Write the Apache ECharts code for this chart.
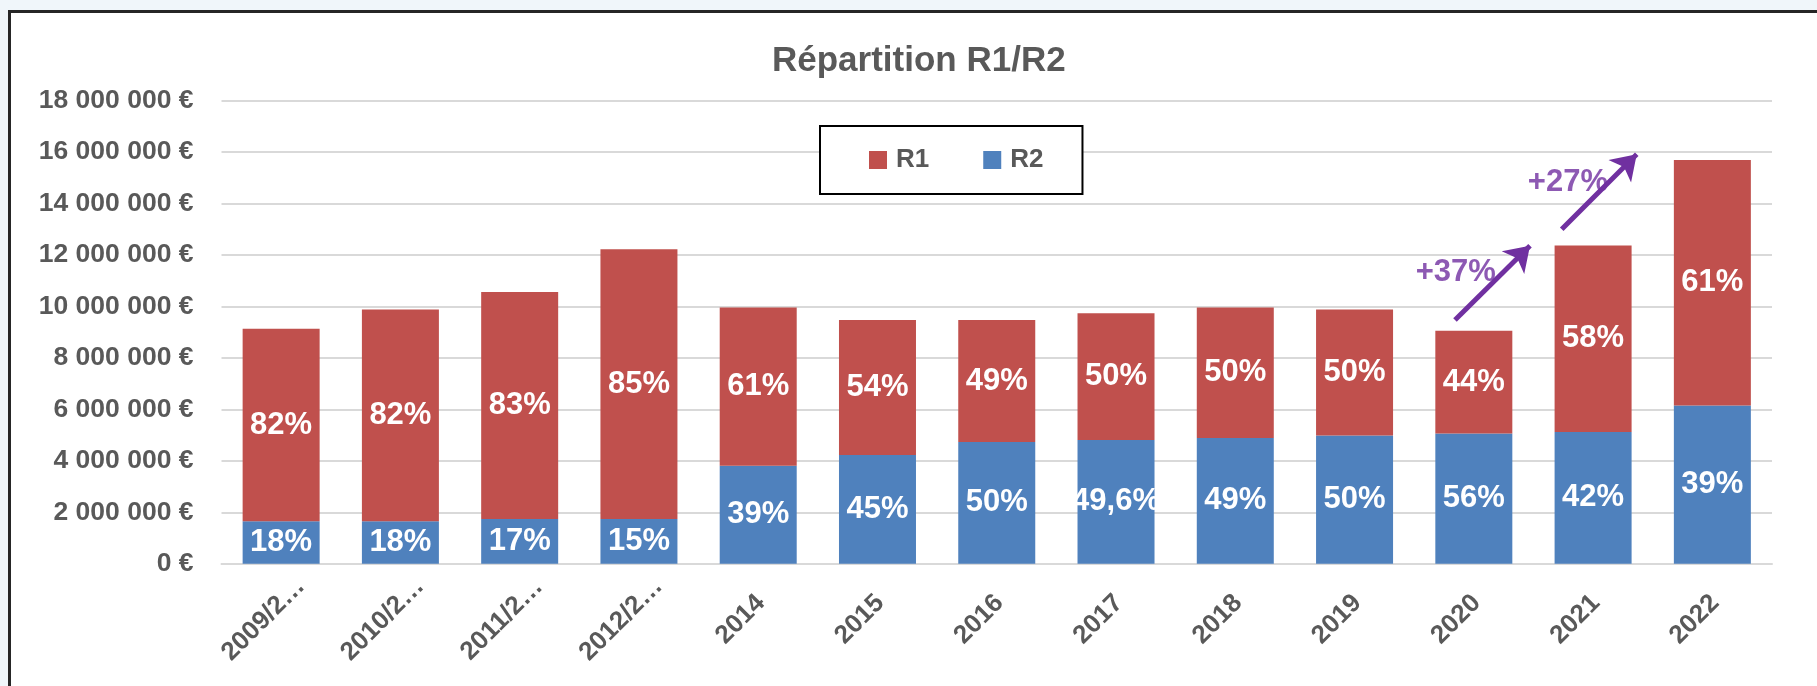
<!DOCTYPE html>
<html>
<head>
<meta charset="utf-8">
<script src="https://cdn.jsdelivr.net/npm/echarts@6/dist/echarts.min.js"></script>
<style>
  html, body { margin: 0; padding: 0; background: #f0f6fa; }
  #frame { position: absolute; left: 8px; top: 10px; width: 1806px; height: 673px;
           background: #ffffff; border-left: 3px solid #262626; border-top: 3px solid #262626; }
  #chart { position: absolute; left: 0; top: 0; width: 1817px; height: 686px; }
</style>
</head>
<body>
<div id="frame"></div>
<div id="chart"></div>
<script>
// ---- data ----
const categories = ['2009/2…', '2010/2…', '2011/2…', '2012/2…', '2014', '2015', '2016', '2017', '2018', '2019', '2020', '2021', '2022'];
const r2Values = [1650000, 1650000, 1740000, 1740000, 3810000, 4230000, 4730000, 4810000, 4890000, 4980000, 5060000, 5120000, 6150000];
const r1Values = [7480000, 8230000, 8820000, 10480000, 6150000, 5240000, 4740000, 4920000, 5070000, 4900000, 3990000, 7250000, 9540000];
const r1Labels = ['82%', '82%', '83%', '85%', '61%', '54%', '49%', '50%', '50%', '50%', '44%', '58%', '61%'];
const r2Labels = ['18%', '18%', '17%', '15%', '39%', '45%', '50%', '49,6%', '49%', '50%', '56%', '42%', '39%'];
const yTicks = { min: 0, max: 18000000, step: 2000000 };
// growth annotations (x in category units, y in euros)
const growthTexts = ['+37%', '+27%'];
const growthTextAt = [[10.349, 11300000], [11.289, 14800000]];
const arrowFrom = [[10.342, 9470000], [11.237, 13000000]];
const arrowTo = [[10.971, 12360000], [11.866, 15910000]];

// ---- chart ----
const FONT = '"Liberation Sans", Arial, sans-serif';
const GREY = '#595959';
const chart = echarts.init(document.getElementById('chart'), null, { renderer: 'canvas' });

function euro(v) {
  const s = String(Math.round(v)).replace(/\B(?=(\d{3})+(?!\d))/g, ' ');
  return s + ' €';
}

const option = {
  backgroundColor: 'transparent',
  animation: false,
  title: {
    text: 'Répartition R1/R2',
    left: 772,
    top: 44,
    padding: 0,
    textStyle: { fontFamily: FONT, fontSize: 35, fontWeight: 'bold', color: GREY, lineHeight: 35 }
  },
  legend: {
    data: ['R1', 'R2'],
    left: 820,
    top: 126,
    padding: [21, 39, 21, 49],
    itemGap: 54,
    itemWidth: 18,
    itemHeight: 18,
    icon: 'rect',
    backgroundColor: '#ffffff',
    borderColor: '#000000',
    borderWidth: 2,
    textStyle: { fontFamily: FONT, fontSize: 26, fontWeight: 'bold', color: GREY, lineHeight: 18, padding: [0, 0, 0, 4] }
  },
  grid: {
    left: 221.5, top: 100.5, width: 1550.5, height: 463.3,
    containLabel: false, outerBoundsMode: 'none'
  },
  xAxis: [
    {
      type: 'category',
      data: categories,
      axisLine: { show: true, lineStyle: { color: '#d9d9d9', width: 2 } },
      axisTick: { show: false },
      splitLine: { show: false },
      axisLabel: {
        interval: 0,
        rotate: 45,
        align: 'center',
        verticalAlign: 'middle',
        padding: [0, 50, 28, 0],
        margin: 38,
        fontFamily: FONT, fontSize: 26, fontWeight: 'bold', color: GREY,
        hideOverlap: false
      }
    },
    {
      type: 'value', min: 0, max: 13, show: false,
      axisLine: { show: false }, splitLine: { show: false }, axisLabel: { show: false }, axisTick: { show: false }
    }
  ],
  yAxis: {
    type: 'value',
    min: yTicks.min, max: yTicks.max, interval: yTicks.step,
    axisLine: { show: false },
    axisTick: { show: false },
    splitLine: { show: true, lineStyle: { color: '#d9d9d9', width: 2 } },
    axisLabel: {
      margin: 28,
      formatter: euro,
      fontFamily: FONT, fontSize: 26.5, fontWeight: 'bold', color: GREY
    }
  },
  series: [
    {
      name: 'R2', type: 'bar', stack: 'total', barWidth: 77, xAxisIndex: 0,
      data: r2Values,
      itemStyle: { color: '#4F81BD' },
      label: {
        show: true, position: 'inside',
        formatter: p => r2Labels[p.dataIndex],
        fontFamily: FONT, fontSize: 31, fontWeight: 'bold', color: '#ffffff'
      }
    },
    {
      name: 'R1', type: 'bar', stack: 'total', barWidth: 77, xAxisIndex: 0,
      data: r1Values,
      itemStyle: { color: '#C0504D' },
      label: {
        show: true, position: 'inside',
        formatter: p => r1Labels[p.dataIndex],
        fontFamily: FONT, fontSize: 31, fontWeight: 'bold', color: '#ffffff'
      }
    },
    {
      name: 'growthText', type: 'scatter', xAxisIndex: 1, yAxisIndex: 0,
      symbolSize: 2, itemStyle: { color: 'rgba(0,0,0,0)' }, z: 5,
      data: growthTextAt.map((c, i) => ({ value: c, name: growthTexts[i] })),
      label: {
        show: true, position: 'inside', formatter: p => p.name,
        fontFamily: FONT, fontSize: 31, fontWeight: 'bold', color: '#7030A0'
      },
      silent: true
    },
    {
      name: 'growthArrow', type: 'lines', coordinateSystem: 'cartesian2d', xAxisIndex: 1, yAxisIndex: 0,
      z: 6,
      symbol: ['none', 'arrow'],
      symbolSize: 24,
      lineStyle: { color: '#7030A0', width: 5, opacity: 1, curveness: 0 },
      data: arrowFrom.map((c, i) => ({ coords: [c, arrowTo[i]] })),
      silent: true
    }
  ]
};
chart.setOption(option);
</script>
</body>
</html>
